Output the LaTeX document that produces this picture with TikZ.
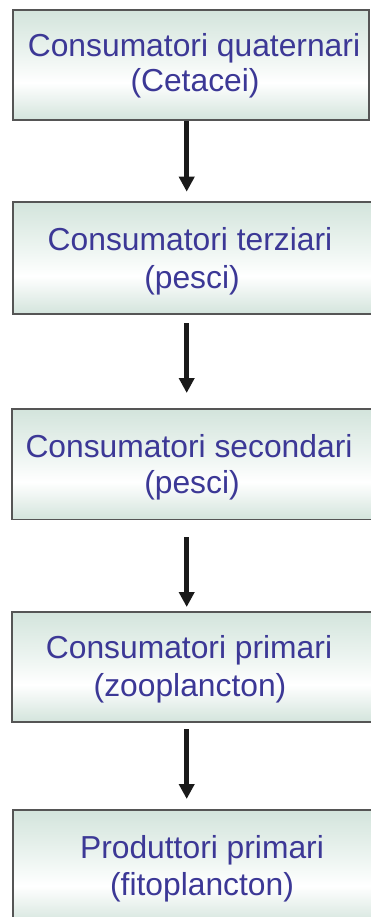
\documentclass[tikz,border=0pt]{standalone}
\usepackage{fontspec}
\setmainfont{Liberation Sans}
\usetikzlibrary{arrows.meta}
\definecolor{boxg}{RGB}{211,228,220}
\definecolor{boxm}{RGB}{236,244,240}
\definecolor{txt}{RGB}{60,56,150}
\definecolor{edgec}{RGB}{85,85,85}
\definecolor{arrc}{RGB}{26,26,26}
\pgfdeclareverticalshading{boxshade}{100bp}{color(0bp)=(boxg); color(25bp)=(boxg); color(42bp)=(white); color(55bp)=(boxm); color(75bp)=(boxg); color(100bp)=(boxg)}
\begin{document}
\begin{tikzpicture}[x=1pt,y=-1pt,
  boxnode/.style={draw=edgec, line width=1.3pt, shading=boxshade, rectangle, inner sep=0pt, outer sep=0pt},
  lbl/.style={text=txt, font=\fontsize{31.8}{36}\selectfont, anchor=base, inner sep=0pt},
  arr/.style={draw=arrc, line width=4.6pt, -{Triangle[width=15pt,length=15pt]}}]
\useasboundingbox (0,0) rectangle (371,917);
\clip (0,0) rectangle (371,917);
\coordinate (axis) at (186.7,0);
\node[boxnode, minimum width=356pt, minimum height=110pt] (b1) at (191,65) {};
\node[boxnode, minimum width=367pt, minimum height=112pt] (b2) at (196.5,258) {};
\node[boxnode, minimum width=368pt, minimum height=110.5pt] (b3) at (196,464.25) {};
\node[boxnode, minimum width=368pt, minimum height=110pt] (b4) at (196,667) {};
\node[boxnode, minimum width=382pt, minimum height=115pt] (b5) at (204,867.5) {};
\node[lbl] (t1a) at (194,57) {Consumatori quaternari};
\node[lbl] (t1b) at (195,91.5) {(Cetacei)};
\node[lbl] (t2a) at (190,251) {Consumatori terziari};
\node[lbl] (t2b) at (192,288) {(pesci)};
\node[lbl] (t3a) at (189,457) {Consumatori secondari};
\node[lbl] (t3b) at (192,493) {(pesci)};
\node[lbl] (t4a) at (189,658.5) {Consumatori primari};
\node[lbl] (t4b) at (190,696.5) {(zooplancton)};
\node[lbl] (t5a) at (202,858) {Produttori primari};
\node[lbl] (t5b) at (202,895) {(fitoplancton)};
\draw[arr, shorten <=1pt, shorten >=10.3pt] (b1.south -| axis) -- (b2.north -| axis);
\draw[arr, shorten <=9pt, shorten >=16pt] (b2.south -| axis) -- (b3.north -| axis);
\draw[arr, shorten <=17.5pt, shorten >=5pt] (b3.south -| axis) -- (b4.north -| axis);
\draw[arr, shorten <=7pt, shorten >=11pt] (b4.south -| axis) -- (b5.north -| axis);
\end{tikzpicture}
\end{document}
